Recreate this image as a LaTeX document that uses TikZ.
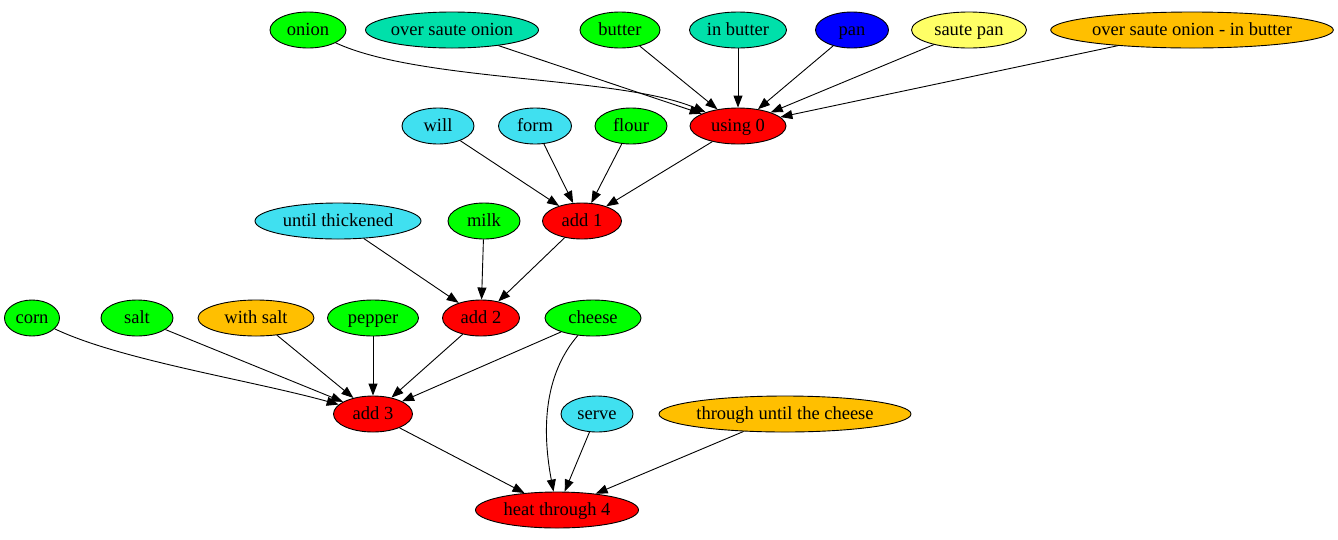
\documentclass[tikz,border=0pt]{standalone}
\usepackage{fontspec}
\setmainfont{Liberation Serif}
\usetikzlibrary{shapes.geometric,arrows.meta}
\definecolor{ingr}{HTML}{00FF00}
\definecolor{prep}{HTML}{00E0AA}
\definecolor{verb}{HTML}{40E0F0}
\definecolor{tool}{HTML}{0000FF}
\definecolor{pale}{HTML}{FFFF66}
\definecolor{amber}{HTML}{FFBF00}
\definecolor{act}{HTML}{FF0000}

\begin{document}
\begin{tikzpicture}[x=1pt,y=-1pt,
  every node/.style={ellipse,draw=black,line width=0.9pt,minimum height=36pt,inner sep=0pt,
    text height=13pt,text depth=1.5pt,font=\fontsize{18.5}{20}\selectfont},
  edge/.style={line width=0.9pt,-{Triangle[length=12pt,width=9pt]}}]
\useasboundingbox (0,0) rectangle (1338,539);
% top row
\node[fill=ingr,minimum width=76pt] (onion) at (308,30) {onion};
\node[fill=prep,minimum width=170pt] (oso) at (452,30) {over saute onion};
\node[fill=ingr,minimum width=80pt] (butter) at (620,30) {butter};
\node[fill=prep,minimum width=97pt] (inbutter) at (738,30) {in butter};
\node[fill=tool,minimum width=73pt] (pan) at (852,30) {pan};
\node[fill=pale,minimum width=115pt] (sautepan) at (969,30) {saute pan};
\node[fill=amber,minimum width=282pt] (osoib) at (1192,30) {over saute onion - in butter};
% second row
\node[fill=verb,minimum width=72pt] (will) at (438,126) {will};
\node[fill=verb,minimum width=73pt] (form) at (535,126) {form};
\node[fill=ingr,minimum width=72pt] (flour) at (631,126) {flour};
\node[fill=act,minimum width=96pt] (using) at (738,126) {using 0};
% third row
\node[fill=verb,minimum width=166pt] (thick) at (338,221) {until thickened};
\node[fill=ingr,minimum width=72pt] (milk) at (484,221) {milk};
\node[fill=act,minimum width=79pt] (addone) at (582,221) {add 1};
% fourth row
\node[fill=ingr,minimum width=55pt] (corn) at (32,318) {corn};
\node[fill=ingr,minimum width=72pt] (salt) at (137,318) {salt};
\node[fill=amber,minimum width=116pt] (withsalt) at (256,318) {with salt};
\node[fill=ingr,minimum width=91pt] (pepper) at (373,318) {pepper};
\node[fill=act,minimum width=77pt] (addtwo) at (481,318) {add 2};
\node[fill=ingr,minimum width=96pt] (cheese) at (593,318) {cheese};
% fifth row
\node[fill=act,minimum width=79pt] (addthree) at (373,414) {add 3};
\node[fill=verb,minimum width=72pt] (serve) at (597,414) {serve};
\node[fill=amber,minimum width=252pt] (tutc) at (785,414) {through until the cheese};
% bottom
\node[fill=act,minimum width=163pt] (heat) at (557,510) {heat through 4};

\draw[edge] (onion) .. controls (420,82) and (620,76) .. (using);
\draw[edge] (oso) -- (using);
\draw[edge] (butter) -- (using);
\draw[edge] (inbutter) -- (using);
\draw[edge] (pan) -- (using);
\draw[edge] (sautepan) -- (using);
\draw[edge] (osoib) -- (using);

\draw[edge] (will) -- (addone);
\draw[edge] (form) -- (addone);
\draw[edge] (flour) -- (addone);
\draw[edge] (using) -- (addone);

\draw[edge] (thick) -- (addtwo);
\draw[edge] (milk) -- (addtwo);
\draw[edge] (addone) -- (addtwo);

\draw[edge] (corn) .. controls (120,360) and (250,380) .. (addthree);
\draw[edge] (salt) -- (addthree);
\draw[edge] (withsalt) -- (addthree);
\draw[edge] (pepper) -- (addthree);
\draw[edge] (addtwo) -- (addthree);
\draw[edge] (cheese) -- (addthree);

\draw[edge] (addthree) -- (heat);
\draw[edge] (cheese) .. controls (548,370) and (540,420) .. (heat);
\draw[edge] (serve) -- (heat);
\draw[edge] (tutc) -- (heat);
\end{tikzpicture}
\end{document}
